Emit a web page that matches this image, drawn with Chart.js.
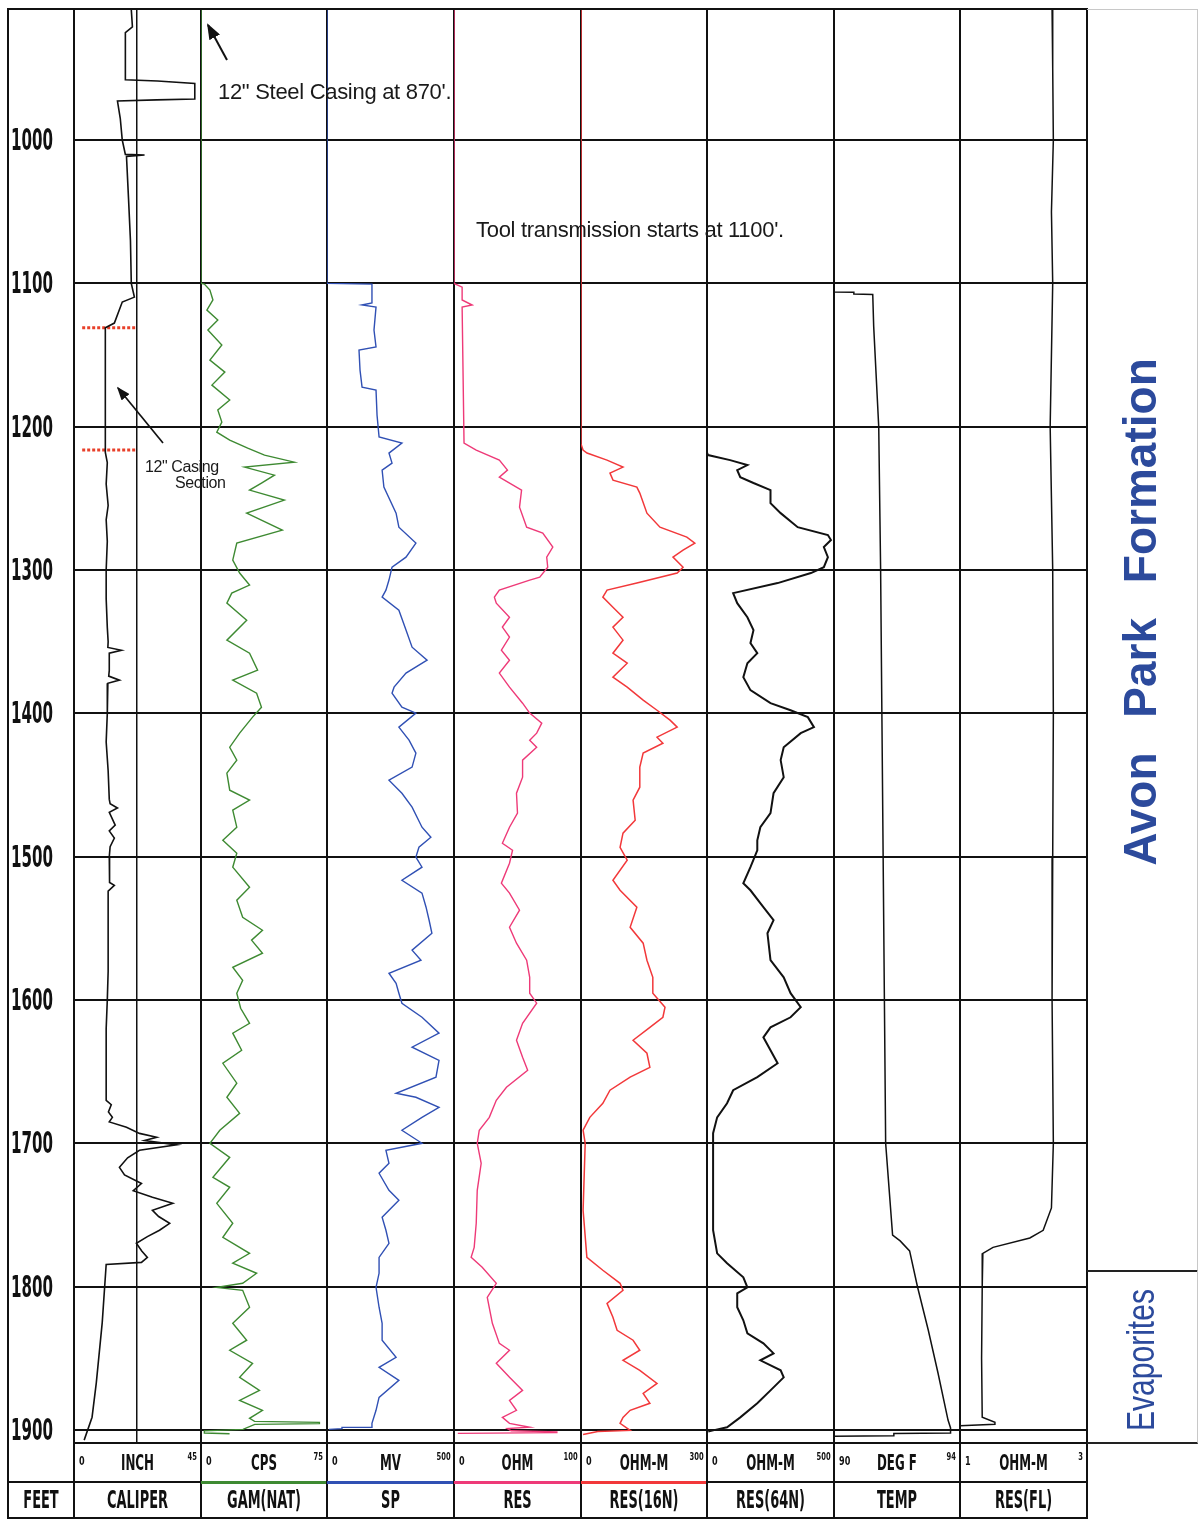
<!DOCTYPE html>
<html>
<head>
<meta charset="utf-8">
<title>Well log - Avon Park Formation</title>
<script src="https://cdn.jsdelivr.net/npm/chart.js@4.4.1/dist/chart.umd.min.js"></script>
<style>
  body { margin: 0; background: #fff; font-family: Arial, "Liberation Sans", sans-serif; }
  #log { position: relative; width: 1199px; height: 1521px; overflow: hidden; background: #fff; }
  #log canvas { position: absolute; }
  .abs { position: absolute; }
  .narrow { font-family: "Liberation Sans Narrow", "DejaVu Sans Condensed", sans-serif; font-weight: bold; color: #111; white-space: nowrap; }
  .note { font-family: Arial, "Liberation Sans", sans-serif; color: #1a1a1a; white-space: nowrap; }
  .formation { font-family: Arial, "Liberation Sans", sans-serif; color: #2c4a9c; white-space: nowrap; }
</style>
</head>
<body>
<div id="log"></div>
<script>
// ---- data (depth in feet, value in track units) ----
const depthMin = 908.6;
const depthMax = 1909;
const depthLines = [1000, 1100, 1200, 1300, 1400, 1500, 1600, 1700, 1800, 1900];

const trackNames = ['CALIPER', 'GAM(NAT)', 'SP', 'RES', 'RES(16N)', 'RES(64N)', 'TEMP', 'RES(FL)'];
const trackUnits = ['INCH', 'CPS', 'MV', 'OHM', 'OHM-M', 'OHM-M', 'DEG F', 'OHM-M'];
const scaleLeft = [0, 0, 0, 0, 0, 0, 90, 1];
const scaleRight = [45, 75, 500, 100, 300, 500, 94, 3];

const bitSize = 22.1;               // straight reference line in caliper track
const casingMarks = [1131, 1216.3]; // red dotted marks, 12" casing section
const casingMarkSpan = [2.9, 22.1];

const caliper = [[909,20.3],[921,20.7],[925,18.2],[958,18.2],[958.8,29.6],[960.5,42.8],[971.4,42.8],[972,29.3],[972.8,15.4],[985,16.4],[1000,17.1],[1010,18.2],[1010.5,25],[1011.5,18.6],[1040,19.3],[1070,20],[1100,20.3],[1109.6,21.4],[1113,17.1],[1127.7,14.3],[1131,11.1],[1218,11.1],[1225,11.8],[1240,11.4],[1255,12.1],[1265,11.4],[1280,11.8],[1300,11.4],[1320,11.4],[1340,11.8],[1350,12.1],[1354,12],[1356,16.8],[1358,12.5],[1370,12.5],[1374,12.3],[1376.8,16.1],[1379,12],[1400,11.8],[1420,11.4],[1440,12.1],[1460,12.5],[1463,12.8],[1466,15.4],[1469,12.5],[1478,14.6],[1482,12.5],[1487,14.3],[1493,12.8],[1500,12.5],[1518,12.6],[1520,14.3],[1524,12.1],[1550,12.1],[1580,12.1],[1600,11.8],[1620,11.4],[1650,11.4],[1670,11.4],[1673,13.2],[1678,12.2],[1681.8,13.6],[1685,12.5],[1688.8,18.6],[1693,23.2],[1695.7,29.3],[1698,25],[1701,36.4],[1704.8,23.2],[1710,19],[1716.7,16.1],[1722,17.9],[1728,23.9],[1733,21],[1737.6,27.8],[1741.8,35],[1746.7,27.8],[1751,30],[1755.8,33.9],[1760.6,30.3],[1765,26],[1769.7,22.1],[1775,24],[1779.5,26],[1783,23.9],[1784.4,11.4],[1825,10],[1867,7.9],[1891,6.4],[1907,3.6]];

const gamma = [[909,0],[1100,0],[1100.5,2],[1104.7,5.3],[1111.6,7.1],[1118.6,3.5],[1125.6,10],[1132.6,4.1],[1143,12.4],[1153.5,5.3],[1161.9,14.2],[1171,6.5],[1181.4,17.1],[1188.4,10],[1196.8,12.4],[1203.8,9.4],[1209.3,17.1],[1214.9,27.8],[1219.8,37.8],[1224.7,55.5],[1228.2,26],[1233.8,43.7],[1239.3,36],[1244.2,28.9],[1251.2,49.6],[1260.3,27.2],[1272.1,48.4],[1281.2,21.3],[1293.1,18.9],[1302.1,23],[1310.5,28.9],[1316.1,18.3],[1323.1,15.4],[1335,27.2],[1348.9,15.4],[1358,28.9],[1369.8,33.7],[1376.8,18.9],[1385.9,33.1],[1395.7,36],[1402.6,30.7],[1413.8,23],[1423.6,17.1],[1432.6,21.3],[1441.7,15.4],[1453.6,17.1],[1460.5,28.9],[1467.5,18.9],[1479.4,21.3],[1488.5,13],[1497.5,21.3],[1507.3,18.9],[1521.3,28.9],[1530.3,21.3],[1542.2,24.8],[1551.3,36.6],[1558.2,30.1],[1567.3,36.6],[1577.1,18.9],[1586.2,24.8],[1595.2,21.3],[1605.7,23.6],[1616.2,28.9],[1623.1,18.9],[1635,24.2],[1644.1,13],[1658,21.3],[1667.8,15.4],[1679,23],[1690.8,11.2],[1699.9,5.3],[1709.7,17.1],[1723.6,7.1],[1730.6,17.1],[1741.8,9.4],[1755.7,18.9],[1765.5,13],[1776.7,28.9],[1783.6,18.9],[1790.6,33.1],[1797.6,24.8],[1800.4,9.4],[1802.5,24.8],[1814.3,28.9],[1825.5,18.9],[1837.3,27.2],[1844.3,17.1],[1853.4,30.7],[1863.2,23],[1872.3,34.8],[1879.3,23],[1886.2,36.6],[1891.8,28.9],[1893.9,31.9],[1894.6,70.5],[1895.5,70.5],[1896,32],[1899.5,25],[1900.5,2],[1902,2],[1902.5,17]];

const sp = [[909,0],[1100,0],[1100.5,177],[1102.6,177],[1113.7,177],[1115.1,138],[1116.5,193],[1132.6,185],[1144.4,193],[1146.5,126],[1160.5,130],[1172.4,138],[1174.5,193],[1191.9,197],[1207.2,205],[1211.4,295],[1218.4,244],[1225.4,256],[1230.3,217],[1242.1,224],[1260.3,272],[1270.1,283],[1281.2,350],[1291,311],[1298,256],[1307,244],[1314,232],[1318.9,217],[1328,283],[1341.9,311],[1353.8,335],[1362.9,394],[1371.9,311],[1381.7,264],[1385.9,256],[1395.7,295],[1399.8,350],[1409.6,283],[1418.7,323],[1427.7,350],[1437.5,335],[1446.6,244],[1455.7,295],[1465.4,335],[1479.4,374],[1486.4,409],[1493.4,362],[1500.3,350],[1507.3,374],[1516.4,295],[1525.4,374],[1535.2,390],[1544.3,402],[1553.4,413],[1565.2,335],[1572.2,370],[1581.3,244],[1588.3,272],[1595.2,283],[1602.2,295],[1612,374],[1623.1,441],[1632.9,335],[1642,441],[1653.8,429],[1665,272],[1667.8,350],[1674.8,441],[1681.8,374],[1690.8,295],[1699.9,374],[1704.8,232],[1713.9,244],[1720.8,205],[1732.7,244],[1739.7,283],[1751.5,217],[1760.6,232],[1769.7,244],[1779.5,205],[1790.6,205],[1800.4,193],[1814.3,205],[1825.5,217],[1837.3,217],[1849.2,272],[1856.2,205],[1865.3,283],[1877.2,205],[1886.2,193],[1895.3,177],[1898,177],[1898.1,59],[1899,59],[1899.5,8]];

const res = [[909,0],[1100,0],[1102.6,6.4],[1111.6,6.4],[1115.1,14.3],[1116.5,6.4],[1211.4,7.9],[1216.3,17.5],[1223.3,35.7],[1230.3,42.1],[1235.2,35.7],[1244.2,53.2],[1256.1,51.6],[1270.1,57.2],[1274.2,69.9],[1284,77.8],[1291,73],[1298,73.8],[1305,67.5],[1307,59.6],[1314,35.7],[1318.9,31.8],[1323.1,33.3],[1332.9,43.7],[1339.8,38.1],[1346.8,43.7],[1355.9,37.3],[1362.9,43.7],[1371.9,35.7],[1381.7,43.7],[1392.9,54],[1399.8,59.6],[1406.8,69.1],[1413.8,65.1],[1418.7,59.6],[1423.6,65.1],[1432.6,54],[1444.5,54],[1455.7,49.2],[1469.6,50],[1479.4,43.7],[1490.6,38.1],[1495.5,46.1],[1504.5,43.7],[1518.5,37.3],[1525.4,43.7],[1537.3,51.6],[1549.2,43.7],[1560.3,49.2],[1572.2,57.2],[1584.1,59.6],[1595.2,59.6],[1602.2,65.1],[1616.2,54],[1628,49.2],[1639.9,54],[1649,58],[1660.8,41.3],[1669.9,33.3],[1681.8,27.8],[1690.8,19.9],[1699.9,18.3],[1713.9,21.4],[1732.7,18.3],[1755.7,17.5],[1772.5,15.9],[1779.5,13.5],[1786.4,22.2],[1797.6,33.3],[1807.4,26.2],[1825.5,30.2],[1839.5,35.7],[1844.3,43.7],[1853.4,33.3],[1863.2,43.7],[1872.3,54],[1879.3,43.7],[1886.2,49.2],[1891.1,38.1],[1895.3,43.7],[1898,59.6],[1899,42],[1900.5,45],[1901.2,81],[1901.8,81],[1902.3,3]];

const res16n = [[909,0],[1212,0],[1216.3,4.8],[1218.4,14.3],[1223.3,61.9],[1228.2,100],[1232.4,69],[1237.3,76.2],[1242.1,133],[1246.3,140],[1260.3,157],[1270.1,188],[1277,252],[1281.2,271],[1286.1,243],[1291,219],[1298,243],[1302.1,229],[1309.1,133],[1314,62],[1318.9,52],[1325.9,76],[1332.9,100],[1339.8,76],[1348.9,100],[1358,76],[1365,110],[1374.7,76],[1381.7,110],[1390.8,148],[1397.8,181],[1404.7,212],[1409.6,229],[1416.6,181],[1420.8,195],[1427.7,148],[1437.5,140],[1451.5,140],[1460.5,124],[1474.5,129],[1483.6,100],[1493.4,93],[1502.4,110],[1516.4,76],[1523.4,93],[1535.2,133],[1549.2,117],[1560.3,148],[1572.2,157],[1584.1,171],[1595.2,171],[1605,200],[1612,195],[1619,164],[1628,124],[1637.1,157],[1646.9,164],[1653.8,117],[1662.9,69],[1672,52],[1681.8,21],[1690.8,5],[1699.9,10],[1746.7,5],[1779.5,14],[1788.5,52],[1797.6,93],[1802.5,100],[1811.6,62],[1821.3,76],[1830.4,86],[1837.3,124],[1844.3,140],[1851.3,100],[1858.3,140],[1867.4,181],[1874.4,148],[1881.3,164],[1886.2,117],[1891.1,100],[1895.3,93],[1900.2,117],[1901,40],[1903,5]];

const res64n = [[909,0],[1218,0],[1219.8,4],[1223.3,91],[1226.8,159],[1230.3,119],[1235.2,131],[1239.3,183],[1244.2,250],[1253.3,250],[1260.3,290],[1270.1,357],[1275.6,476],[1279.1,488],[1284,460],[1291,476],[1298,460],[1302.1,409],[1309.1,278],[1316.1,103],[1323.1,119],[1332.9,159],[1341.9,183],[1351,171],[1358,198],[1365,159],[1374.7,143],[1383.8,171],[1392.9,250],[1397.8,329],[1402.6,397],[1409.6,421],[1413.8,369],[1423.6,302],[1432.6,290],[1444.5,302],[1455.7,262],[1469.6,250],[1479.4,210],[1488.5,198],[1495.5,198],[1507.3,171],[1518.5,143],[1523.4,171],[1535.2,222],[1544.3,262],[1553.4,238],[1572.2,250],[1584.1,302],[1595.2,329],[1605,369],[1612,329],[1619,250],[1626,222],[1635,250],[1644.1,278],[1653.8,198],[1662.9,103],[1672,79],[1681.8,40],[1692.9,24],[1760.6,24],[1776.7,40],[1783.6,79],[1793.4,143],[1800.4,159],[1804.6,119],[1814.3,119],[1823.4,143],[1832.5,159],[1839.5,222],[1846.5,262],[1851.3,210],[1858.3,290],[1863.2,302],[1872.3,250],[1881.3,198],[1891.1,131],[1898,79],[1900.2,24],[1901,5]];

const temp = [[909,90],[1106,90],[1106.2,90.63],[1107.5,90.63],[1107.7,91.23],[1130,91.26],[1200,91.42],[1300,91.48],[1400,91.52],[1500,91.56],[1600,91.6],[1700,91.64],[1764,91.86],[1768,92.1],[1775,92.4],[1800,92.65],[1830,92.99],[1860,93.3],[1893,93.62],[1898.5,93.7],[1902,93.7],[1902.3,91.9],[1904,91.9],[1904.3,90]];

const resfl = [[909,2.45],[950,2.46],[1000,2.47],[1050,2.44],[1100,2.46],[1200,2.42],[1250,2.44],[1300,2.46],[1400,2.47],[1500,2.46],[1600,2.45],[1700,2.47],[1745,2.44],[1760.6,2.31],[1766,2.1],[1772.5,1.52],[1776.7,1.36],[1800,1.35],[1850,1.34],[1891,1.35],[1894.6,1.55],[1896,1.55],[1897,1.0]];

// ---- layout (pixels) ----
const edges = [74, 201, 327, 454, 581, 707, 834, 960, 1087];
const plotTop = 9;
const plotBottom = 1443;
const pad = 4;
const depthAxisWidth = 63;

const tracks = [
    { curves: [{ data: caliper, color: '#111', width: 1.6 }] },
    { curves: [{ data: gamma, color: '#3e8a32', width: 1.4 }], headColor: '#3e8a32' },
    { curves: [{ data: sp, color: '#3050b4', width: 1.4 }], headColor: '#3050b4' },
    { curves: [{ data: res, color: '#ee3a78', width: 1.4 }], headColor: '#ee3a78' },
    { curves: [{ data: res16n, color: '#f2383a', width: 1.5 }], headColor: '#f2383a' },
    { curves: [{ data: res64n, color: '#111', width: 2 }] },
    { curves: [{ data: temp, color: '#111', width: 1.5 }] },
    { curves: [{ data: resfl, color: '#111', width: 1.5 }] }
];

const log = document.getElementById('log');

function addDiv(css, text, cls) {
    const d = document.createElement('div');
    d.className = 'abs' + (cls ? ' ' + cls : '');
    d.style.cssText += css;
    if (text !== undefined) d.textContent = text;
    log.appendChild(d);
    return d;
}

function toPoints(pairs) {
    return pairs.map(p => ({ x: p[1], y: p[0] }));
}

// Depth numbers in the left column, placed with the caliper chart's depth scale
const depthLabels = {
    id: 'depthLabels',
    afterDraw(chart) {
        if (chart.$depthDone) return;
        chart.$depthDone = true;
        const yScale = chart.scales.y;
        const top = parseFloat(chart.canvas.style.top);
        depthLines.forEach(v => {
            addDiv('left:11px;top:' + (top + yScale.getPixelForValue(v)) + 'px;font-size:30px;line-height:30px;' +
                'transform:translateY(-50%) scaleX(0.56);transform-origin:left center;', String(v), 'narrow');
        });
    }
};

tracks.forEach((track, i) => {
    const isFirst = i === 0;
    const extra = isFirst ? depthAxisWidth : 0;
    const canvas = document.createElement('canvas');
    canvas.width = edges[i + 1] - edges[i] + 2 * pad + extra;
    canvas.height = plotBottom - plotTop + 2 * pad;
    canvas.style.left = (edges[i] - pad - extra) + 'px';
    canvas.style.top = (plotTop - pad) + 'px';
    log.appendChild(canvas);

    const datasets = track.curves.map(c => ({
        data: toPoints(c.data),
        borderColor: c.color,
        borderWidth: c.width,
        pointRadius: 0,
        tension: 0,
        fill: false
    }));

    // Caliper track also carries the red dotted casing marks
    if (isFirst) {
        casingMarks.forEach(d => {
            datasets.push({
                data: casingMarkSpan.map(v => ({ x: v, y: d })),
                borderColor: '#e8402a',
                borderWidth: 3,
                borderDash: [3, 2],
                pointRadius: 0
            });
        });
    }

    const xTicks = isFirst ? [scaleLeft[i], bitSize, scaleRight[i]] : [scaleLeft[i], scaleRight[i]];

    new Chart(canvas, {
        type: 'line',
        data: { datasets: datasets },
        plugins: isFirst ? [depthLabels] : [],
        options: {
            responsive: false,
            animation: false,
            indexAxis: 'y',
            layout: { padding: pad },
            plugins: {
                legend: { display: false },
                tooltip: { enabled: false }
            },
            scales: {
                x: {
                    type: 'linear',
                    min: scaleLeft[i],
                    max: scaleRight[i],
                    position: 'bottom',
                    ticks: { display: false },
                    grid: {
                        color: '#111',
                        lineWidth: ctx => (ctx.tick && ctx.tick.value === bitSize) ? 1.5 : 2,
                        drawTicks: false
                    },
                    border: { display: false },
                    afterBuildTicks: scale => { scale.ticks = xTicks.map(v => ({ value: v })); },
                    afterFit: scale => { scale.height = 0; }
                },
                y: {
                    type: 'linear',
                    reverse: true,
                    min: depthMin,
                    max: depthMax,
                    position: 'left',
                    ticks: { display: false },
                    grid: { color: '#111', lineWidth: 2, drawTicks: false },
                    border: { display: false },
                    afterBuildTicks: scale => {
                        scale.ticks = [depthMin].concat(depthLines, [depthMax]).map(v => ({ value: v }));
                    },
                    afterFit: scale => {
                        scale.width = extra;
                        scale.paddingTop = 0;
                        scale.paddingBottom = 0;
                    }
                }
            }
        }
    });
});

// ---- header rows, frame and notes ----

// outer frame
addDiv('left:7px;top:8px;width:1081px;height:1511px;border:2px solid #111;box-sizing:border-box;');
// row separator between scale row and name row
addDiv('left:8px;top:1481px;width:1079px;height:2px;background:#111;');

tracks.forEach((track, i) => {
    const l = edges[i], r = edges[i + 1], w = r - l;
    // vertical separators in header
    addDiv('left:' + (l - 1) + 'px;top:1443px;width:2px;height:76px;background:#111;');
    if (track.headColor) {
        addDiv('left:' + l + 'px;top:1481px;width:' + w + 'px;height:3px;background:' + track.headColor + ';');
    }
    addDiv('left:' + (l + 5) + 'px;top:1454px;font-size:12px;transform:scaleX(0.75);transform-origin:left;', String(scaleLeft[i]), 'narrow');
    addDiv('left:' + (r - 22) + 'px;top:1451px;width:18px;text-align:right;font-size:10px;transform:scaleX(0.75);transform-origin:right;', String(scaleRight[i]), 'narrow');
    addDiv('left:' + l + 'px;top:1450px;width:' + w + 'px;text-align:center;font-size:22px;transform:scaleX(0.6);', trackUnits[i], 'narrow');
    addDiv('left:' + l + 'px;top:1486px;width:' + w + 'px;text-align:center;font-size:24px;transform:scaleX(0.6);', trackNames[i], 'narrow');
});
addDiv('left:8px;top:1486px;width:66px;text-align:center;font-size:24px;transform:scaleX(0.6);', 'FEET', 'narrow');

// formation column
addDiv('left:1087px;top:9px;width:111px;height:1263px;border-right:1px solid #c8c8c8;border-top:1px solid #c8c8c8;border-bottom:2px solid #222;box-sizing:border-box;');
addDiv('left:1087px;top:1271px;width:111px;height:173px;border-right:1px solid #c8c8c8;border-bottom:2px solid #222;box-sizing:border-box;');
addDiv('left:1140px;top:612px;font-size:46px;font-weight:bold;word-spacing:22px;transform:translate(-50%,-50%) rotate(-90deg);', 'Avon Park Formation', 'formation');
addDiv('left:1141px;top:1360px;font-size:38px;transform:translate(-50%,-50%) rotate(-90deg) scaleX(0.79);', 'Evaporites', 'formation');

// annotations
addDiv('left:218px;top:79px;font-size:22px;letter-spacing:-0.3px;', '12" Steel Casing at 870\'.', 'note');
addDiv('left:476px;top:217px;font-size:22px;letter-spacing:-0.3px;', 'Tool transmission starts at 1100\'.', 'note');
addDiv('left:145px;top:458px;font-size:16px;letter-spacing:-0.4px;', '12" Casing', 'note');
addDiv('left:175px;top:474px;font-size:16px;letter-spacing:-0.4px;', 'Section', 'note');

// arrows
const svgNS = 'http://www.w3.org/2000/svg';
const svg = document.createElementNS(svgNS, 'svg');
svg.setAttribute('width', '1199');
svg.setAttribute('height', '1521');
svg.setAttribute('class', 'abs');
svg.style.left = '0px';
svg.style.top = '0px';
svg.innerHTML =
    '<defs><marker id="ah" markerWidth="8" markerHeight="6" refX="7" refY="3" orient="auto">' +
    '<path d="M0,0 L8,3 L0,6 z" fill="#111"/></marker></defs>' +
    '<line x1="227" y1="60" x2="208" y2="25" stroke="#111" stroke-width="2" marker-end="url(#ah)"/>' +
    '<line x1="163" y1="443" x2="118" y2="388" stroke="#111" stroke-width="1.7" marker-end="url(#ah)"/>';
log.appendChild(svg);
</script>
</body>
</html>
